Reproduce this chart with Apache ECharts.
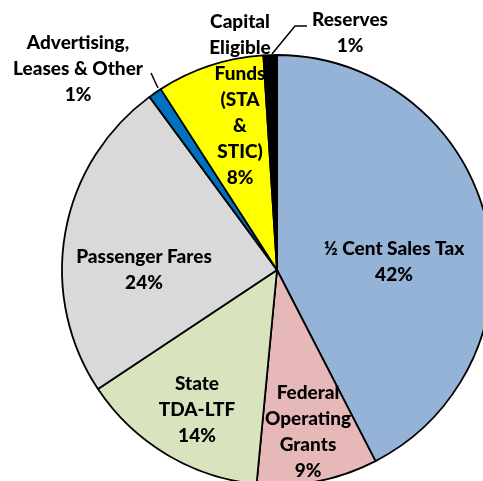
<!DOCTYPE html>
<html>
<head>
<meta charset="utf-8">
<script src="https://cdn.jsdelivr.net/npm/echarts@6/dist/echarts.min.js"></script>
<style>
  html, body { margin: 0; padding: 0; background: #fff; }
  #chart { width: 483px; height: 481px; }
</style>
</head>
<body>
<div id="chart"></div>
<script>
// Revenue sources, clockwise from 12 o'clock (percent of total)
const categories = [
  '½ Cent Sales Tax',
  'Federal\nOperating\nGrants',
  'State\nTDA-LTF',
  'Passenger Fares',
  'Advertising,\nLeases & Other',
  'Capital\nEligible\nFunds\n(STA\n&\nSTIC)',
  'Reserves'
];
const shares = [42, 9, 14, 24, 1, 8, 1];
const colors = ['#95B3D7', '#E6B9B8', '#D7E4BD', '#D9D9D9', '#0070C0', '#FFFF00', '#000000'];

// Label anchor points (block centres) and leader-line routes for outside labels
const labelAnchors = [
  [394, 262], [308, 432], [197, 410], [144, 270], [78, 69], [240, 100], [350, 33]
];
const leaderLines = {
  4: [[158, 88], [151, 73], [151, 73]],
  6: [[272, 54], [295, 26], [307, 26]]
};
const outsideIdx = [4, 6];

const chart = echarts.init(document.getElementById('chart'), null, { renderer: 'canvas' });

chart.setOption({
  animation: false,
  backgroundColor: '#ffffff',
  series: [{
    type: 'pie',
    center: [277, 270],
    radius: [0, 215],
    startAngle: 90,
    clockwise: true,
    avoidLabelOverlap: false,
    itemStyle: { borderColor: '#000', borderWidth: 1.8 },
    label: {
      show: true,
      position: 'inside',
      formatter: p => p.name + '\n' + p.value + '%',
      fontFamily: 'Lato',
      fontWeight: 900,
      fontSize: 19,
      lineHeight: 26,
      color: '#000',
      align: 'center'
    },
    labelLine: { show: false },
    labelLayout: params => {
      const i = params.dataIndex;
      const a = labelAnchors[i];
      const out = { x: a[0], y: a[1], align: 'center', verticalAlign: 'middle' };
      if (leaderLines[i]) out.labelLinePoints = leaderLines[i];
      return out;
    },
    data: categories.map((name, i) => {
      const item = { name, value: shares[i], itemStyle: { color: colors[i] } };
      if (outsideIdx.includes(i)) {
        item.label = { position: 'outside' };
        item.labelLine = { show: true, length: 10, length2: 10, lineStyle: { color: '#000', width: 1.5 } };
      }
      return item;
    })
  }]
});
</script>
</body>
</html>
